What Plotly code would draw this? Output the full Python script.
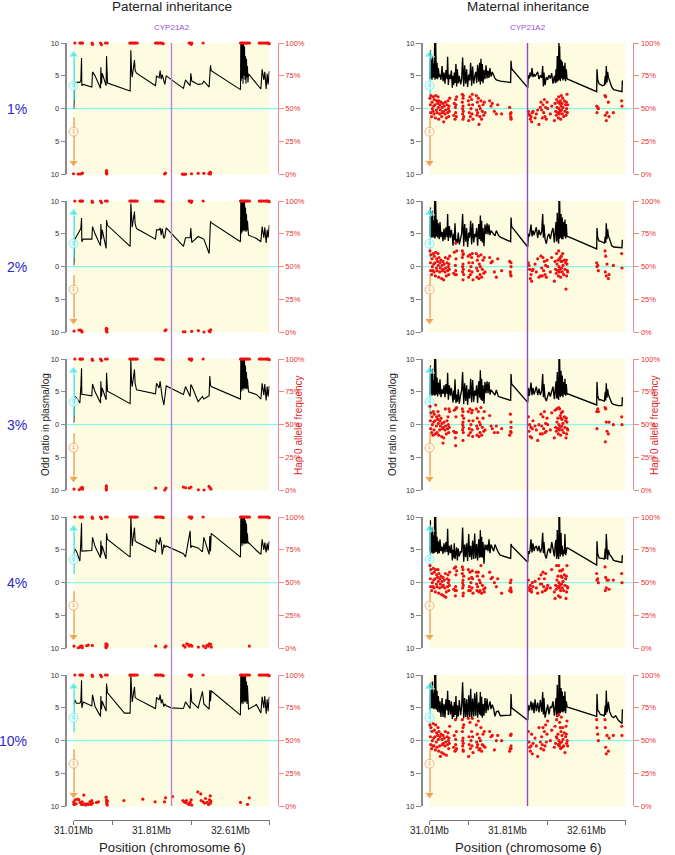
import plotly.graph_objects as go

# page is drawn with a small bleed on every side so edge texts do not push the margins
BLEED = 12
PAGE_W = 675
PAGE_H = 855
FIG_W = PAGE_W + 2 * BLEED
FIG_H = PAGE_H + 2 * BLEED

# paternal log odd ratio line, same SNP positions in every panel
PAT_X = [31.013, 31.024, 31.040, 31.075, 31.085, 31.092, 31.095, 31.109, 31.197, 31.204,
         31.230, 31.286, 31.289, 31.296, 31.303, 31.343, 31.347, 31.357, 31.530, 31.588,
         31.595, 31.602, 31.609, 31.632, 31.639, 31.653, 31.847, 31.857, 31.884, 31.894,
         31.905, 31.915, 31.932, 31.942, 31.956, 32.007, 32.132, 32.153, 32.200, 32.207,
         32.217, 32.282, 32.326, 32.340, 32.394, 32.401, 32.408, 32.415, 32.714, 32.717,
         32.720, 32.725, 32.730, 32.735, 32.740, 32.745, 32.750, 32.755, 32.760, 32.765,
         32.770, 32.775, 32.780, 32.785, 32.790,
         32.796, 32.877, 32.922, 32.935, 32.952, 32.962, 32.976, 32.986, 32.996, 33.007]
PAT_Y_1 = [0.0, 4.0, 4.0, 4.0, 4.3, 7.7, 3.5, 3.7, 3.3, 5.6,
           5.0, 3.1, 6.3, 3.8, 5.4, 3.5, 8.0, 3.9, None, 2.7,
           8.9, 5.8, 4.8, 7.4, 5.8, 5.4, 3.5, 5.0, 4.7, 5.8,
           4.5, 5.2, 4.4, 3.7, 5.0, None, 3.1, 4.4, 3.5, 5.4,
           4.2, 3.7, 3.8, 4.2, 3.3, 5.0, 6.6, 5.8, 2.9, 10,
           4.2, 10, 4.6, 10, 3.8, 10, 5.0, 9.5, 4.4, 8.0, 3.8, 7.6, 4.8, 6.5, 4.0,
           5.3, 3.9, 3.0, 6.0, 4.4, 5.6, 3.0, 5.3, 3.7, 5.7]
PAT_Y_2 = [0.2, 4.2, 4.6, 5.6, 5.8, 7.4, 3.8, 4.2, 4.2, 6.1,
           5.0, 3.2, 6.5, 4.2, 5.6, 2.8, 7.1, 6.3, None, 3.1,
           9.6, 6.6, 6.0, 8.4, 6.5, 5.8, 4.2, 5.6, 5.6, 5.9,
           4.8, 5.8, 4.3, 4.6, 5.9, None, 3.1, 4.4, 4.4, 5.9,
           3.7, 4.6, 4.3, 4.2, 2.0, 4.8, 6.9, 6.7, 3.8, 10,
           5.0, 10, 5.2, 10, 5.5, 10, 5.4, 10, 5.6, 9.0, 5.3, 8.0, 5.5, 7.0, 5.2,
           4.8, 4.3, 3.8, 6.1, 4.4, 6.0, 3.6, 5.6, 4.4, 6.3]
PAT_Y_3 = [0.3, 4.3, 4.1, 3.3, 5.8, 8.6, 4.6, 4.6, 4.4, 6.2,
           5.0, 3.3, 6.6, 4.3, 5.6, 3.8, 7.9, 5.1, None, 3.2,
           9.9, 6.6, 5.8, 8.4, 6.3, 5.3, 4.7, 6.3, 5.6, 6.6,
           4.8, 4.2, 3.0, 4.6, 5.9, None, 4.6, 5.8, 4.3, 6.1,
           5.9, 3.5, 4.3, 3.9, 4.4, 7.4, 6.0, 5.8, 3.9, 10,
           5.0, 10, 5.4, 10, 5.2, 10, 5.6, 10, 5.4, 9.0, 5.5, 8.0, 5.4, 7.0, 5.1,
           5.0, 4.6, 3.9, 6.3, 4.5, 6.2, 3.7, 5.8, 4.3, 5.9]
PAT_Y_4 = [4.5, 5.1, 4.8, 3.3, 6.3, 9.1, 4.8, 4.8, 4.9, 6.9,
           5.5, 3.8, 6.4, 4.3, 5.6, 3.6, 7.5, 6.6, None, 3.9,
           10, 6.9, 5.6, 8.4, 6.4, 6.2, 4.7, 6.6, 5.8, 6.9,
           6.1, 4.3, 5.8, 5.4, 5.6, None, 4.4, 3.9, 7.9, 5.3,
           5.6, 5.3, 4.7, 6.9, 4.3, 7.1, 4.8, 7.5, 3.9, 10,
           6.0, 10, 5.6, 10, 6.0, 10, 5.8, 10, 6.0, 9.5, 5.9, 9.0, 6.0, 7.5, 6.0,
           6.1, 4.9, 4.3, 6.6, 5.0, 6.1, 4.6, 6.0, 4.9, 6.3]
PAT_Y_5 = [5.5, 6.2, 5.7, 5.7, 6.0, 9.2, 5.0, 5.9, 5.3, 7.0,
           5.2, 3.7, 6.8, 4.8, 6.0, 4.5, 8.7, 7.3, 4.2, 4.2,
           10, 6.5, 5.9, 8.2, 6.6, 6.4, 4.9, 6.6, 6.2, 7.0,
           5.7, 6.3, 5.2, 5.6, 5.3, 5.0, 4.9, 5.9, 4.9, 8.0,
           5.9, 5.0, 7.5, 5.6, 4.8, 7.7, 6.0, 7.6, 3.9, 10,
           5.5, 10, 5.8, 10, 5.6, 10, 6.0, 10, 5.8, 9.8, 6.0, 9.0, 5.6, 8.4, 5.5,
           4.8, 5.5, 4.2, 6.7, 5.0, 6.8, 4.1, 6.3, 4.5, 6.7]

# paternal allele frequency points, upper row (same in all panels)
PAT_TOP_X = [31.024, 31.075, 31.085, 31.095, 31.102, 31.200, 31.204, 31.286, 31.296, 31.337,
             31.354, 31.585, 31.595, 31.609, 31.619, 31.636, 31.646, 31.660, 31.847, 31.857,
             31.867, 31.884, 31.898, 31.911, 31.925, 32.190, 32.200, 32.211, 32.217, 32.333,
             32.714, 32.724, 32.734, 32.745, 32.758, 32.769, 32.779, 32.792, 32.806, 32.905,
             32.918, 32.932, 32.945, 32.962, 32.976, 32.986, 32.996, 33.007]
PAT_TOP_Y = [100, 100, 100, 100, 100, 100, 99, 100, 98.8, 100,
             100, 100, 100, 100, 100, 100, 100, 100, 100, 100,
             100, 100, 100, 100, 99.5, 100, 100, 99, 100, 100,
             100, 100, 100, 100, 100, 100, 100, 100, 100, 100,
             100, 100, 100, 100, 100, 100, 100, 99.5]

# paternal allele frequency points, lower row
PAT_BOT_X_1 = [31.010, 31.058, 31.078, 31.092, 31.102, 31.347, 31.347, 31.347, 31.350, 31.939,
               31.949, 32.122, 32.139, 32.153, 32.214, 32.282, 32.340, 32.391, 32.401, 32.408, 32.408]
PAT_BOT_Y_1 = [0.5, 0.3, 0.3, 0.5, 1, 2.8, 1.8, 0.8, 0.3, 0.3,
               1, 0.2, 0.2, 0.2, 0.5, 0.8, 0.8, 0.5, 1.3, 1.5, 0.3]
PAT_BOT_X_2 = [31.015, 31.066, 31.083, 31.093, 31.097, 31.345, 31.345, 31.345, 31.352, 31.352,
               31.944, 31.954, 32.131, 32.148, 32.216, 32.284, 32.342, 32.393, 32.403, 32.410]
PAT_BOT_Y_2 = [1, 1.8, 1.8, 1, 0.3, 3, 2, 1, 2.5, 0.3,
               1.3, 2, 0.5, 0.5, 0.8, 1.3, 0.3, 1, 0.5, 2]
PAT_BOT_X_3 = [31.015, 31.069, 31.086, 31.100, 31.103, 31.345, 31.345, 31.345, 31.345, 31.849,
               31.941, 31.954, 32.131, 32.155, 32.192, 32.209, 32.284, 32.342, 32.393, 32.403,
               32.413]
PAT_BOT_Y_3 = [1, 0.5, 1.8, 2.3, 1, 3.5, 2.5, 1.5, 0.3, 1.8,
               0.3, 1.8, 2.5, 2, 1.8, 2.5, 0.5, 0.3, 3, 2,
               1]
PAT_BOT_X_4 = [31.015, 31.059, 31.076, 31.083, 31.097, 31.100, 31.144, 31.161, 31.202, 31.342,
               31.342, 31.342, 31.342, 31.352, 31.352, 31.849, 31.944, 31.954, 32.131, 32.148,
               32.165, 32.179, 32.192, 32.206, 32.219, 32.284, 32.335, 32.358, 32.372, 32.386,
               32.396, 32.410, 32.416, 32.804]
PAT_BOT_Y_4 = [1.8, 0.5, 1, 1.8, 1.8, 0.5, 2, 2.5, 2.3, 3.5,
               2.5, 1.5, 0.5, 3, 1.8, 1.8, 1, 1.8, 2.3, 1,
               3.5, 3, 1.8, 2.5, 1.8, 1, 1.8, 0.5, 2.3, 1.8,
               3.5, 3, 1, 1.8]
PAT_BOT_X_5 = [31.013, 31.013, 31.020, 31.027, 31.037, 31.051, 31.064, 31.078, 31.092, 31.098,
               31.109, 31.115, 31.122, 31.136, 31.149, 31.163, 31.177, 31.190, 31.197, 31.204,
               31.245, 31.265, 31.343, 31.347, 31.347, 31.350, 31.354, 31.357, 31.524, 31.717,
               31.843, 31.939, 31.949, 32.020, 32.126, 32.139, 32.153, 32.163, 32.177, 32.190,
               32.200, 32.211, 32.217, 32.279, 32.309, 32.313, 32.333, 32.347, 32.357, 32.374,
               32.388, 32.398, 32.405, 32.408, 32.411, 32.714, 32.786, 32.803]
PAT_BOT_Y_5 = [3.5, 1.8, 1.5, 5, 2, 5.5, 5.2, 3, 1.5, 3.5,
               1.5, 8.6, 2, 1, 2, 1.5, 3.5, 1.5, 4.5, 2.5,
               3, 3.5, 7, 5, 3.5, 2, 1, 4, 4.5, 5.5,
               3.5, 3.5, 6.5, 7.5, 4.5, 3.5, 3, 4.5, 2, 1.5,
               3, 5, 1, 11, 9.5, 4.5, 3.5, 2.5, 6, 3,
               1.5, 5, 8, 2.5, 4, 3, 1.5, 6.5]

# maternal log odd ratio line
MAT_X = [31.012, 31.019, 31.022, 31.029, 31.036, 31.039, 31.046, 31.053, 31.056, 31.063,
         31.066, 31.073, 31.080, 31.087, 31.093, 31.100, 31.110, 31.117, 31.127, 31.138,
         31.148, 31.158, 31.168, 31.178, 31.189, 31.195, 31.202, 31.212, 31.223, 31.233,
         31.243, 31.250, 31.257, 31.263, 31.270, 31.280, 31.287, 31.294, 31.304, 31.314,
         31.328, 31.338, 31.348, 31.359, 31.369, 31.379, 31.389, 31.399, 31.410, 31.420,
         31.430, 31.440, 31.450, 31.461, 31.471, 31.481, 31.491, 31.501, 31.512, 31.522,
         31.529, 31.535, 31.542, 31.549, 31.556, 31.566, 31.576, 31.587, 31.597, 31.607,
         31.617, 31.627, 31.638, 31.651, 31.665, 31.678, 31.692, 31.712, 31.733, 31.838,
         31.842, 31.848, 32.012, 32.019, 32.029, 32.036, 32.046, 32.056, 32.066, 32.077,
         32.087, 32.100, 32.114, 32.127, 32.141, 32.155, 32.165, 32.172, 32.178, 32.189,
         32.202, 32.216, 32.229, 32.243, 32.257, 32.270, 32.284, 32.294, 32.301, 32.307,
         32.314, 32.321, 32.325, 32.328, 32.331, 32.335, 32.338, 32.345, 32.352, 32.358,
         32.365, 32.372, 32.379, 32.386, 32.392, 32.399, 32.406, 32.413, 32.420, 32.716,
         32.719, 32.726, 32.740, 32.753, 32.774, 32.794, 32.804, 32.808, 32.814, 32.821,
         32.828, 32.835, 32.848, 32.869, 32.889, 32.910, 32.937, 32.964, 32.974, 32.978]
MAT_Y_1 = [4.5, 8.9, 4.6, 7.4, 4.4, 8.0, 4.7, 6.9, 4.8, 10,
           4.4, 10, 4.6, 7.0, 4.5, 6.2, 4.8, 5.2, 4.4, 6.5,
           4.2, 5.5, 3.8, 5.9, 4.5, 7.9, 3.6, 5.2, 4.5, 5.8,
           3.2, 5.0, 3.6, 5.5, 3.9, 6.8, 3.4, 6.0, 3.9, 5.0,
           3.7, 4.5, 7.8, 3.4, 6.6, 3.8, 6.0, 3.3, 5.2, 4.3,
           7.0, 3.5, 6.4, 3.8, 4.9, 5.6, 3.9, 6.7, 4.1, 7.0,
           3.7, 7.6, 4.2, 6.8, 3.9, 5.9, 4.5, 6.6, 4.6, 5.8,
           4.7, 6.2, 4.9, 5.6, 5.1, 4.6, 4.4, 4.3, 4.2, 4.0,
           7.3, 6.1, 3.2, 5.1, 4.6, 5.5, 4.9, 6.2, 4.8, 5.3,
           4.9, 5.2, 5.6, 4.5, 5.1, 4.7, 6.5, 3.4, 5.5, 3.6,
           4.8, 4.4, 5.1, 4.6, 5.4, 3.8, 5.0, 3.9, 6.0, 4.0,
           8.0, 4.2, 10, 4.3, 10, 4.4, 9.5, 4.2, 7.5, 4.6,
           7.2, 4.3, 6.5, 4.5, 7.0, 4.2, 6.0, 4.6, 4.5, 2.6,
           6.0, 4.4, 3.8, 3.7, 3.5, 3.6, 5.0, 3.7, 6.5, 4.0,
           5.6, 4.8, 4.1, 3.3, 2.9, 2.8, 2.7, 2.6, 2.6, 4.3]
MAT_Y_2 = [4.7, 9.0, 4.5, 7.6, 4.4, 8.5, 4.6, 7.0, 4.4, 10,
           4.3, 10, 4.6, 7.2, 4.4, 6.6, 4.2, 6.8, 4.5, 5.3,
           3.9, 5.8, 4.1, 6.0, 4.5, 8.0, 3.9, 6.2, 4.4, 5.6,
           4.5, 3.2, 5.0, 4.0, 6.6, 3.4, 4.2, 3.6, 5.2, 3.4,
           4.3, 5.0, 8.0, 3.1, 6.5, 3.8, 5.9, 3.0, 5.2, 4.4,
           7.0, 3.4, 6.6, 3.7, 5.0, 4.5, 5.9, 3.2, 6.5, 4.2,
           7.8, 3.9, 7.0, 3.7, 5.9, 3.1, 6.4, 5.0, 6.6, 4.9,
           6.4, 4.8, 5.5, 5.2, 5.0, 4.7, 5.5, 4.8, 4.5, 3.8,
           7.5, 6.1, 3.0, 5.0, 4.6, 5.4, 6.4, 4.6, 5.5, 4.8,
           5.3, 6.0, 4.4, 5.6, 4.8, 5.3, 8.0, 4.4, 6.4, 4.2,
           3.5, 4.6, 5.0, 4.2, 5.3, 5.9, 3.7, 5.6, 6.8, 3.8,
           8.2, 4.4, 10, 3.5, 10, 4.2, 10, 4.4, 8.0, 4.2,
           7.5, 4.2, 6.8, 4.6, 7.2, 4.3, 6.5, 4.6, 4.6, 2.7,
           5.9, 4.5, 3.9, 3.9, 3.7, 3.6, 4.6, 3.6, 6.6, 4.2,
           5.7, 4.7, 4.2, 3.2, 3.0, 3.0, 2.9, 2.9, 2.9, 4.1]
MAT_Y_3 = [4.5, 9.0, 4.7, 7.8, 4.4, 8.5, 4.6, 6.8, 4.5, 10,
           4.4, 10, 4.6, 7.2, 4.3, 6.4, 4.6, 6.9, 4.2, 5.4,
           4.7, 6.0, 4.2, 6.2, 4.7, 7.9, 3.8, 6.0, 4.4, 5.6,
           4.3, 3.4, 5.2, 3.8, 6.9, 3.3, 4.6, 3.5, 5.4, 3.2,
           4.6, 5.2, 8.0, 3.1, 6.3, 3.6, 6.0, 3.0, 5.4, 4.0,
           7.0, 3.4, 6.8, 3.5, 5.2, 4.4, 6.0, 3.3, 6.6, 4.1,
           8.3, 3.8, 7.0, 3.6, 6.0, 3.2, 6.5, 4.8, 6.6, 4.8,
           6.5, 4.6, 5.3, 5.0, 4.8, 4.5, 5.3, 4.3, 4.2, 3.7,
           7.7, 6.2, 3.4, 5.6, 4.4, 5.4, 6.4, 4.5, 5.6, 4.6,
           5.3, 5.8, 4.5, 5.5, 4.5, 5.2, 7.7, 4.2, 6.2, 4.1,
           3.6, 4.6, 5.0, 4.3, 5.2, 5.8, 3.9, 5.4, 6.6, 4.0,
           8.0, 4.2, 10, 3.8, 10, 4.5, 10, 4.2, 8.2, 4.4,
           7.5, 4.2, 6.5, 4.6, 7.0, 4.4, 6.2, 4.6, 4.7, 3.0,
           6.5, 4.4, 3.8, 3.8, 3.7, 3.6, 5.0, 3.7, 6.3, 4.1,
           5.4, 4.6, 4.1, 3.3, 3.1, 3.0, 2.9, 2.9, 2.9, 4.2]
MAT_Y_4 = [4.8, 9.5, 4.4, 7.6, 4.6, 8.4, 4.4, 7.2, 4.5, 10,
           4.6, 10, 4.7, 7.0, 4.4, 6.3, 4.5, 6.6, 4.8, 5.5,
           4.4, 6.0, 4.6, 6.2, 4.7, 8.2, 4.2, 5.6, 4.5, 5.8,
           3.4, 5.0, 3.8, 6.0, 3.6, 4.8, 5.4, 3.4, 5.2, 4.0,
           4.8, 4.6, 8.4, 3.2, 5.8, 3.9, 6.0, 3.3, 7.4, 3.9,
           5.6, 3.5, 6.4, 3.6, 7.5, 3.7, 5.9, 3.4, 6.6, 3.8,
           8.0, 3.9, 7.0, 3.8, 6.2, 2.9, 5.8, 5.0, 5.8, 4.8,
           6.6, 4.5, 5.8, 5.3, 4.8, 5.8, 5.3, 4.6, 4.2, 3.7,
           5.9, 5.6, 3.1, 4.8, 4.4, 5.0, 6.6, 4.6, 6.0, 4.8,
           5.4, 5.6, 4.8, 5.6, 4.6, 5.2, 7.6, 4.5, 6.2, 4.2,
           3.7, 4.8, 5.2, 4.5, 6.2, 5.0, 4.0, 6.0, 6.5, 3.6,
           8.0, 4.2, 10, 3.6, 10, 4.4, 10, 4.0, 7.6, 4.3,
           5.6, 4.0, 5.0, 4.4, 7.4, 4.2, 5.0, 5.3, 5.3, 2.7,
           6.3, 4.4, 3.8, 3.7, 3.7, 3.6, 5.2, 3.6, 7.4, 3.7,
           3.5, 5.0, 4.3, 3.9, 3.4, 3.3, 3.2, 3.1, 3.1, 4.2]
MAT_Y_5 = [4.8, 8.8, 4.9, 7.8, 5.0, 9.0, 4.9, 7.3, 4.8, 10,
           4.9, 10, 4.7, 7.6, 4.4, 6.8, 4.3, 6.0, 3.6, 6.5,
           3.6, 5.6, 3.5, 6.3, 4.6, 7.6, 3.9, 6.2, 4.0, 6.0,
           3.3, 5.3, 3.6, 5.9, 3.9, 6.8, 3.3, 5.4, 3.7, 6.2,
           3.9, 5.2, 8.9, 3.4, 6.5, 3.6, 6.3, 3.3, 6.9, 3.6,
           7.9, 3.4, 6.4, 3.7, 7.2, 3.8, 7.4, 3.5, 5.8, 4.0,
           7.4, 3.8, 6.7, 3.5, 5.6, 3.8, 6.5, 4.2, 6.4, 4.6,
           5.3, 6.0, 4.8, 5.5, 4.8, 3.7, 4.4, 4.5, 3.8, 3.9,
           7.1, 5.0, 3.1, 5.4, 4.6, 5.0, 6.0, 4.6, 5.8, 4.2,
           6.3, 4.5, 5.8, 4.3, 6.2, 4.4, 7.4, 4.0, 6.5, 3.5,
           4.8, 5.5, 4.0, 5.2, 5.0, 6.0, 3.8, 5.6, 6.5, 3.6,
           8.5, 4.2, 10, 3.8, 10, 4.0, 10, 4.2, 8.0, 4.4,
           7.5, 4.3, 6.8, 4.5, 7.5, 4.2, 6.0, 5.2, 5.1, 3.7,
           7.1, 4.6, 4.4, 4.0, 3.9, 3.8, 5.4, 3.9, 7.6, 4.3,
           4.9, 5.9, 4.4, 3.7, 3.5, 3.8, 3.1, 2.7, 2.6, 4.8]

# maternal allele frequency points (percent)
MAT_PTS_X = [31.015, 31.019, 31.022, 31.025, 31.032, 31.036, 31.039, 31.046, 31.049, 31.053,
             31.056, 31.059, 31.066, 31.070, 31.073, 31.080, 31.083, 31.087, 31.093, 31.097,
             31.100, 31.104, 31.107, 31.114, 31.117, 31.121, 31.127, 31.134, 31.138, 31.141,
             31.148, 31.151, 31.155, 31.161, 31.168, 31.172, 31.175, 31.182, 31.189, 31.195,
             31.199, 31.202, 31.206, 31.209, 31.212, 31.216, 31.257, 31.263, 31.270, 31.274,
             31.277, 31.277, 31.280, 31.284, 31.287, 31.345, 31.345, 31.348, 31.348, 31.352,
             31.352, 31.352, 31.355, 31.355, 31.359, 31.406, 31.410, 31.413, 31.416, 31.423,
             31.427, 31.433, 31.440, 31.444, 31.447, 31.450, 31.454, 31.488, 31.491, 31.495,
             31.498, 31.501, 31.508, 31.515, 31.518, 31.525, 31.529, 31.535, 31.542, 31.549,
             31.556, 31.563, 31.569, 31.576, 31.624, 31.638, 31.651, 31.672, 31.692, 31.706,
             31.746, 31.828, 31.835, 31.838, 31.842, 31.842, 31.842, 32.019, 32.025, 32.032,
             32.039, 32.046, 32.052, 32.059, 32.066, 32.087, 32.100, 32.114, 32.127, 32.141,
             32.148, 32.155, 32.161, 32.168, 32.175, 32.182, 32.189, 32.195, 32.202, 32.209,
             32.216, 32.243, 32.257, 32.284, 32.291, 32.297, 32.304, 32.307, 32.311, 32.318,
             32.321, 32.325, 32.328, 32.331, 32.335, 32.338, 32.341, 32.345, 32.348, 32.352,
             32.355, 32.358, 32.362, 32.365, 32.369, 32.372, 32.379, 32.386, 32.392, 32.399,
             32.403, 32.406, 32.409, 32.413, 32.416, 32.420, 32.716, 32.719, 32.726, 32.733,
             32.801, 32.804, 32.808, 32.814, 32.821, 32.835, 32.842, 32.886, 32.971, 32.974]
MAT_PTS_Y_1 = [58, 53, 47, 60, 44, 55, 50, 48, 59, 52,
               46, 57, 53, 43, 60, 49, 56, 47, 54, 59,
               51, 42, 56, 46, 53, 49, 55, 44, 51, 47,
               54, 48, 40, 52, 46, 55, 49, 43, 53, 47,
               56, 50, 44, 52, 48, 58, 45, 54, 42, 51,
               57, 47, 53, 44, 59, 61, 55, 50, 46, 42,
               58, 52, 48, 60, 44, 56, 41, 53, 47, 59,
               44, 50, 57, 46, 61, 53, 42, 60, 49, 45,
               55, 47, 58, 38, 52, 44, 50, 56, 42, 48,
               53, 45, 55, 47, 56, 52, 54, 48, 46, 53,
               46, 51, 46, 44, 43, 42, 47, 48, 46, 45,
               42, 44, 40, 47, 48, 43, 46, 49, 38, 51,
               55, 49, 43, 53, 47, 57, 44, 51, 42, 55,
               50, 46, 52, 41, 54, 48, 45, 57, 51, 47,
               55, 43, 59, 50, 46, 54, 48, 56, 42, 52,
               60, 49, 54, 46, 58, 51, 44, 56, 48, 53,
               45, 55, 50, 61, 47, 53, 52, 47, 51, 50,
               60, 45, 59, 41, 47, 55, 44, 47, 56, 52]
MAT_PTS_Y_2 = [62, 53, 47, 59, 44, 56, 50, 47, 60, 52,
               46, 58, 53, 43, 61, 49, 56, 47, 54, 60,
               51, 42, 57, 46, 53, 49, 55, 41, 51, 47,
               54, 48, 40, 52, 46, 57, 49, 43, 53, 47,
               56, 50, 44, 52, 48, 58, 45, 61, 44, 51,
               68, 47, 56, 44, 62, 62, 57, 50, 46, 40,
               59, 52, 48, 60, 44, 58, 42, 53, 47, 59,
               44, 50, 57, 46, 60, 53, 40, 60, 49, 42,
               55, 47, 58, 41, 52, 44, 50, 59, 42, 48,
               55, 45, 57, 46, 57, 53, 54, 46, 42, 56,
               47, 54, 46, 44, 43, 53, 50, 53, 51, 48,
               41, 44, 39, 47, 48, 52, 46, 56, 42, 43,
               58, 49, 43, 57, 47, 54, 44, 51, 42, 55,
               50, 46, 57, 39, 54, 48, 45, 60, 52, 47,
               55, 43, 62, 50, 46, 56, 48, 57, 42, 54,
               58, 49, 54, 46, 60, 51, 44, 55, 48, 53,
               33, 55, 43, 52, 47, 46, 53, 50, 51, 47,
               62, 46, 58, 43, 52, 41, 44, 51, 60, 49]
MAT_PTS_Y_3 = [64, 53, 47, 59, 44, 56, 50, 42, 60, 52,
               46, 58, 53, 43, 65, 49, 56, 44, 54, 60,
               51, 42, 57, 46, 53, 49, 55, 41, 51, 47,
               36, 48, 40, 52, 46, 62, 49, 43, 53, 47,
               56, 50, 44, 62, 48, 60, 45, 61, 44, 40,
               62, 34, 56, 44, 63, 62, 57, 50, 46, 38,
               60, 52, 48, 44, 55, 60, 42, 53, 47, 62,
               44, 50, 59, 46, 61, 41, 53, 62, 49, 42,
               55, 47, 60, 41, 52, 44, 50, 63, 42, 48,
               55, 45, 60, 46, 57, 49, 47, 44, 49, 44,
               47, 42, 58, 45, 52, 48, 44, 56, 45, 50,
               41, 48, 40, 47, 53, 49, 46, 38, 50, 43,
               58, 49, 43, 56, 47, 60, 44, 51, 45, 55,
               50, 46, 59, 40, 61, 48, 45, 62, 52, 47,
               55, 43, 63, 50, 46, 62, 48, 57, 42, 55,
               59, 49, 54, 46, 60, 51, 44, 56, 48, 53,
               40, 55, 43, 52, 47, 46, 60, 47, 62, 60,
               63, 37, 62, 52, 45, 43, 52, 50, 56, 50]
MAT_PTS_Y_4 = [63, 53, 47, 60, 44, 57, 50, 47, 61, 52,
               46, 58, 53, 43, 60, 49, 56, 47, 54, 60,
               51, 42, 57, 46, 53, 49, 55, 41, 51, 47,
               54, 48, 40, 52, 46, 57, 39, 43, 53, 47,
               56, 50, 44, 52, 48, 58, 45, 61, 44, 40,
               62, 47, 56, 44, 59, 62, 57, 50, 46, 40,
               60, 52, 48, 42, 55, 60, 44, 53, 47, 58,
               44, 50, 54, 46, 59, 53, 42, 58, 49, 44,
               55, 47, 58, 43, 52, 44, 50, 63, 42, 48,
               55, 45, 43, 46, 58, 53, 54, 50, 47, 53,
               42, 44, 50, 46, 44, 43, 52, 52, 46, 44,
               48, 45, 43, 50, 47, 51, 46, 42, 53, 49,
               56, 49, 43, 58, 47, 53, 44, 57, 45, 46,
               48, 46, 60, 43, 38, 48, 45, 63, 52, 47,
               55, 40, 63, 50, 46, 59, 48, 39, 44, 55,
               59, 49, 54, 46, 60, 51, 44, 56, 48, 53,
               38, 55, 43, 63, 47, 46, 57, 52, 53, 50,
               62, 44, 54, 46, 52, 52, 45, 52, 57, 50]
MAT_PTS_Y_5 = [62, 53, 47, 60, 44, 57, 50, 46, 63, 52,
               46, 58, 53, 43, 62, 49, 56, 45, 54, 60,
               51, 42, 57, 46, 53, 38, 55, 41, 51, 47,
               54, 48, 40, 52, 46, 57, 49, 39, 53, 47,
               56, 50, 44, 52, 48, 61, 45, 54, 42, 66,
               47, 51, 43, 57, 44, 66, 57, 50, 46, 43,
               60, 52, 48, 42, 62, 67, 38, 53, 47, 64,
               44, 50, 57, 46, 67, 53, 41, 62, 49, 45,
               55, 47, 65, 43, 52, 44, 50, 60, 42, 47,
               55, 46, 57, 45, 57, 53, 54, 43, 50, 54,
               50, 42, 44, 54, 46, 44, 55, 57, 49, 45,
               42, 46, 55, 40, 48, 52, 46, 38, 60, 49,
               44, 53, 47, 60, 43, 57, 46, 62, 49, 55,
               65, 50, 58, 45, 61, 48, 53, 66, 52, 69,
               55, 47, 70, 50, 46, 64, 48, 60, 44, 57,
               68, 49, 54, 45, 60, 51, 46, 56, 41, 53,
               61, 55, 48, 65, 50, 46, 66, 60, 55, 50,
               66, 60, 45, 40, 54, 42, 52, 54, 61, 54]

ROW_LABELS = ["1%", "2%", "3%", "4%", "10%"]
COL_TITLES = ["Paternal inheritance", "Maternal inheritance"]
LEFT_TICKS = [-10, -5, 0, 5, 10]
LEFT_TEXT = ["10", "5", "0", "5", "10"]
RIGHT_TICKS = [0, 25, 50, 75, 100]
RIGHT_TEXT = ["0%", "25%", "50%", "75%", "100%"]
X_TICKS = [31.01, 31.41, 32.21, 33.01]
X_LABELS = [31.01, 31.81, 32.61]
GENE_X = 32.01

PAT_BOT = [(PAT_BOT_X_1, PAT_BOT_Y_1), (PAT_BOT_X_2, PAT_BOT_Y_2), (PAT_BOT_X_3, PAT_BOT_Y_3),
           (PAT_BOT_X_4, PAT_BOT_Y_4), (PAT_BOT_X_5, PAT_BOT_Y_5)]
PAT_LINES = [PAT_Y_1, PAT_Y_2, PAT_Y_3, PAT_Y_4, PAT_Y_5]
MAT_LINES = [MAT_Y_1, MAT_Y_2, MAT_Y_3, MAT_Y_4, MAT_Y_5]
MAT_PTS = [MAT_PTS_Y_1, MAT_PTS_Y_2, MAT_PTS_Y_3, MAT_PTS_Y_4, MAT_PTS_Y_5]

# pixel layout
ROW_TOPS = [43, 201, 359, 517, 675]
ROW_H = 131.4
COL_LEFT = [73.5, 429.5]
COL_W = 196
AXIS_L = [66.3, 421.7]
AXIS_R = [277.7, 633.3]
ODD_X = [46, 393]
HAP_X = [299, 655]

RED = "#ee1111"
PINK = "#f08a8a"
CYAN = "#2ee6e6"
ORANGE = "#ea8a1c"
PURPLE = ["#b486dc", "#9048cc"]


def px(v):
    return (v + BLEED) / FIG_W


def py(v):
    return 1 - (v + BLEED) / FIG_H


fig = go.Figure()
layout = dict(
    width=FIG_W, height=FIG_H, margin=dict(l=0, r=0, t=0, b=0, pad=0, autoexpand=False),
    paper_bgcolor="white", plot_bgcolor="#fefce0", showlegend=False,
    font=dict(family="Liberation Sans", color="#333333"),
)
shapes = []
annotations = []


def add_text(x, y, text, size, color="#222222", angle=0):
    annotations.append(dict(x=px(x), y=py(y), xref="paper", yref="paper", text=text, showarrow=False,
                            xanchor="center", yanchor="middle", textangle=angle,
                            font=dict(size=size, color=color, family="Liberation Sans")))


for c in range(2):
    for r in range(5):
        n = c * 5 + r + 1
        n2 = n + 10
        xname, yname, y2name = f"x{n}", f"y{n}", f"y{n2}"

        xax = dict(domain=[px(COL_LEFT[c]), px(COL_LEFT[c] + COL_W)], range=[31.01, 33.01],
                   showgrid=False, zeroline=False, anchor="free", position=py(819.5),
                   automargin=False,
                   visible=(r == 4), showline=True, linecolor="#777777", linewidth=1,
                   ticks="outside", ticklen=4, tickcolor="#777777",
                   tickvals=X_TICKS, showticklabels=False)
        layout[f"xaxis{n}"] = xax

        dom = [py(ROW_TOPS[r] + ROW_H), py(ROW_TOPS[r])]
        layout[f"yaxis{n}"] = dict(domain=dom, range=[-10, 10], anchor="free", automargin=False,
                                   position=px(AXIS_L[c]), side="left", showgrid=False,
                                   zeroline=False, showline=True, linecolor="#8a8a8a",
                                   linewidth=1.5, ticks="outside", ticklen=5,
                                   tickcolor="#8a8a8a", tickvals=LEFT_TICKS, ticktext=LEFT_TEXT,
                                   tickfont=dict(size=7.5, color="#333333"))
        layout[f"yaxis{n2}"] = dict(domain=dom, range=[0, 100], anchor="free", automargin=False,
                                    position=px(AXIS_R[c]), side="right", overlaying=yname,
                                    showgrid=False, zeroline=False, showline=True,
                                    linecolor=PINK, linewidth=1.2, ticks="outside", ticklen=5,
                                    tickcolor=PINK, tickvals=RIGHT_TICKS, ticktext=RIGHT_TEXT,
                                    tickfont=dict(size=7.5, color="#e83030"))

        # cyan baseline runs axis to axis
        shapes.append(dict(type="line", xref="paper", yref=yname, x0=px(AXIS_L[c]), x1=px(AXIS_R[c]),
                           y0=0, y1=0, layer="below", line=dict(color="#8af5ee", width=1.2)))

        if c == 0:
            line_x, line_y, line_w = PAT_X, PAT_LINES[r], 1.1
        else:
            line_x, line_y, line_w = MAT_X, MAT_LINES[r], 1.35
        fig.add_trace(go.Scatter(x=line_x, y=line_y, mode="lines", xaxis=xname, yaxis=yname,
                                 connectgaps=True, line=dict(color="black", width=line_w),
                                 cliponaxis=False))

        # arrows for hap 0 / hap 1, with their small circles
        fig.add_trace(go.Scatter(x=[31.01, 31.01], y=[1.3, 8.2], mode="lines+markers",
                                 xaxis=xname, yaxis=yname, cliponaxis=False,
                                 line=dict(color=CYAN, width=2.5),
                                 marker=dict(symbol="triangle-up", size=[0, 9], color=CYAN)))
        fig.add_trace(go.Scatter(x=[31.01, 31.01], y=[-1.3, -8.2], mode="lines+markers",
                                 xaxis=xname, yaxis=yname, cliponaxis=False,
                                 line=dict(color=ORANGE, width=2.2),
                                 marker=dict(symbol="triangle-down", size=[0, 9], color=ORANGE)))
        fig.add_trace(go.Scatter(x=[31.01], y=[3.5], mode="markers+text", text=["0"],
                                 textposition="middle center", xaxis=xname, yaxis=yname,
                                 cliponaxis=False, textfont=dict(size=5, color=CYAN),
                                 marker=dict(size=9, color="rgba(225,255,255,0.7)",
                                             line=dict(color="#8aeeee", width=1))))
        fig.add_trace(go.Scatter(x=[31.01], y=[-3.5], mode="markers+text", text=["1"],
                                 textposition="middle center", xaxis=xname, yaxis=yname,
                                 cliponaxis=False, textfont=dict(size=5, color="#e8a060"),
                                 marker=dict(size=9, color="rgba(255,250,235,0.8)",
                                             line=dict(color="#f0b080", width=1))))

        if c == 0:
            pts = [(PAT_TOP_X, PAT_TOP_Y), PAT_BOT[r]]
        else:
            pts = [(MAT_PTS_X, MAT_PTS[r])]
        for pts_x, pts_y in pts:
            fig.add_trace(go.Scatter(x=pts_x, y=pts_y, mode="markers", xaxis=xname, yaxis=y2name,
                                     cliponaxis=False,
                                     marker=dict(size=3.2, color=RED, line=dict(width=0))))

    # gene marker spans all rows of a column
    shapes.append(dict(type="line", xref=f"x{c * 5 + 1}", yref="paper", x0=GENE_X, x1=GENE_X,
                       y0=py(43), y1=py(806), line=dict(color=PURPLE[c], width=1.4)))

    cx = COL_LEFT[c] + COL_W / 2 + 0.5
    add_text(cx, 6.5, COL_TITLES[c], 13.5)
    add_text(cx, 27.5, "CYP21A2", 8, "#9a4fd8")
    add_text(ODD_X[c], 425, "Odd ratio in plasma/log", 10, "#222222", -90)
    add_text(HAP_X[c], 425, "Hap 0 allele frequency", 10, "#e02828", -90)
    add_text(cx, 847, "Position (chromosome 6)", 13.2)
    for v in X_LABELS:
        annotations.append(dict(x=v, y=py(830), xref=f"x{c * 5 + 5}", yref="paper",
                                text=f"{v:.2f}Mb", showarrow=False, xanchor="center",
                                yanchor="middle", font=dict(size=10, color="#222222",
                                                            family="Liberation Sans")))

for r in range(5):
    add_text(16.5 if r < 4 else 12.5, ROW_TOPS[r] + ROW_H / 2, ROW_LABELS[r], 14, "#2a2acc")

layout["shapes"] = shapes
layout["annotations"] = annotations
fig.update_layout(**layout)
fig.write_html("out.html", config=dict(displayModeBar=False),
               post_script=f"document.body.style.margin='-{BLEED}px 0 0 -{BLEED}px';document.documentElement.style.overflow='hidden';")
